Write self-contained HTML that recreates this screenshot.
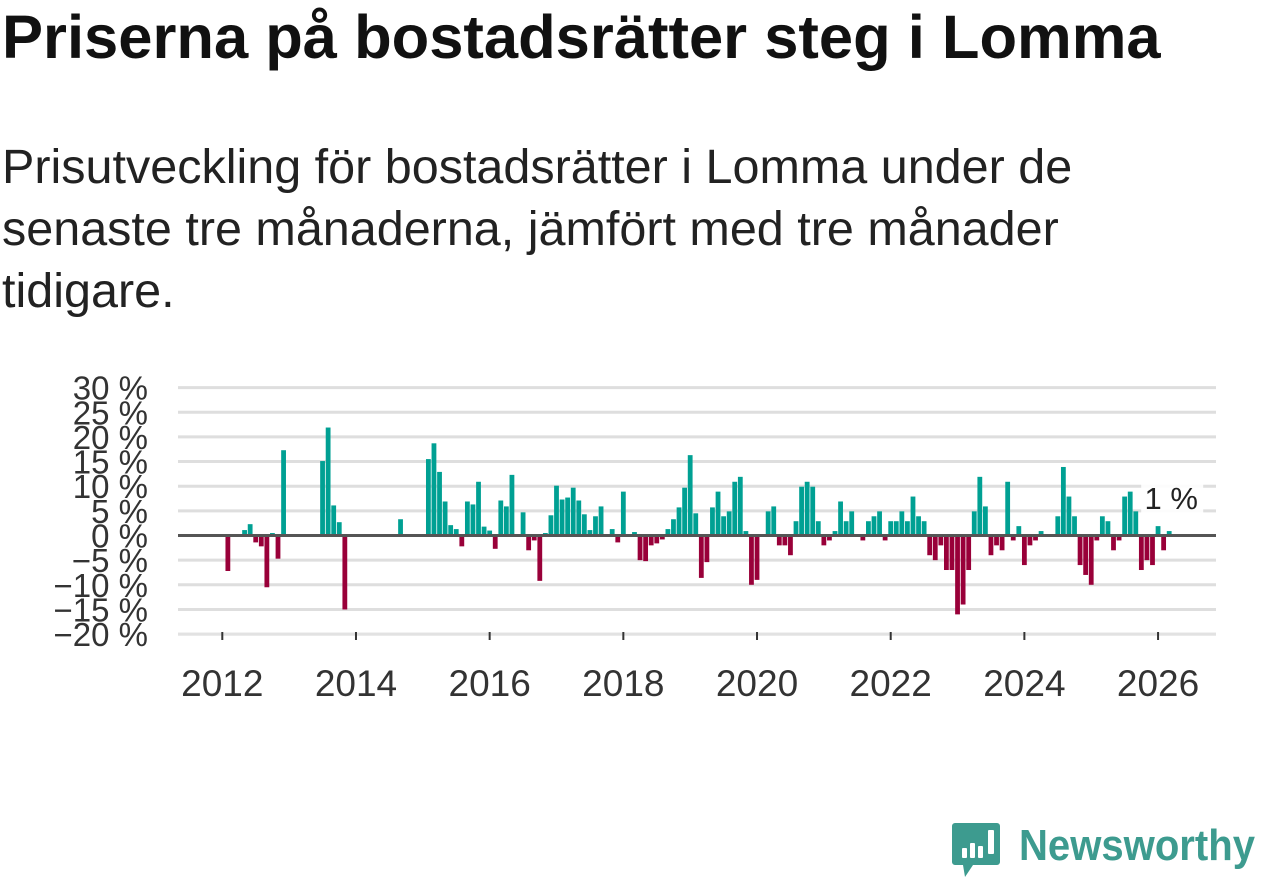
<!DOCTYPE html>
<html><head><meta charset="utf-8">
<style>
body{margin:0;width:1262px;height:879px;background:#fff;overflow:hidden;font-family:"Liberation Sans","DejaVu Sans",sans-serif;}
#title{position:absolute;left:2px;top:0px;font-size:61.5px;line-height:76px;font-weight:bold;color:#111;margin:0;white-space:nowrap;}
#sub{position:absolute;left:2px;top:136px;font-size:48.5px;line-height:62px;color:#222;margin:0;width:1110px;}
svg{position:absolute;left:0;top:0;}
</style></head><body>
<h1 id="title">Priserna på bostadsrätter steg i Lomma</h1>
<p id="sub">Prisutveckling för bostadsrätter i Lomma under de senaste tre månaderna, jämfört med tre månader tidigare.</p>
<svg id="chart" width="1262" height="879"></svg>
<script>
const startYear = 2012;
const values = [
0,-7.2,0,0,1.1,2.3,-1.4,-2.2,-10.5,0.5,-4.7,17.3,
0,0,0,0,0,0,15.1,21.9,6.1,2.7,-15,0,
0,0,0,0,0,0,0,0,3.3,0,0,0,
0,15.5,18.7,12.9,6.9,2.1,1.3,-2.2,6.9,6.3,10.9,1.8,
1.0,-2.7,7.1,5.9,12.3,0.3,4.7,-3.0,-1.0,-9.2,0.5,4.1,
10.1,7.3,7.7,9.7,7.1,4.3,1.1,3.9,5.9,0,1.3,-1.4,
8.9,0,0.7,-5.0,-5.2,-2.0,-1.6,-0.8,1.3,3.3,5.7,9.7,
16.3,4.5,-8.6,-5.4,5.7,8.9,3.9,4.9,10.9,11.9,0.9,-10.0,
-9.0,0,4.9,5.9,-2.0,-2.0,-4.0,2.9,9.9,10.9,9.9,2.9,
-2.0,-1.0,0.9,6.9,2.9,4.9,0,-1.0,2.9,3.9,4.9,-1.0,
2.9,2.9,4.9,2.9,7.9,3.9,2.9,-4.0,-5.0,-2.0,-7.0,-7.0,
-16.0,-14.0,-7.0,4.9,11.9,5.9,-4.0,-2.0,-3.0,10.9,-1.0,1.9,
-6.0,-2.0,-1.0,0.9,0,0,3.9,13.9,7.9,3.9,-6.0,-8.0,
-10.0,-1.0,3.9,2.9,-3.0,-1.0,7.9,8.9,4.9,-7.0,-5.0,-6.0,
1.9,-3.0,0.9
];
const yTicks = [30,25,20,15,10,5,0,-5,-10,-15,-20];
const yTickLabels = ["30 %","25 %","20 %","15 %","10 %","5 %","0 %","−5 %","−10 %","−15 %","−20 %"];
const xTicks = [2012,2014,2016,2018,2020,2022,2024,2026];
const lastLabel = "1 %";

const NS="http://www.w3.org/2000/svg";
const svg=document.getElementById('chart');
const x0=178,x1=1216;
function y(v){return 535.5-(v)*4.93;}
function xm(m){return 222.3+m*5.57;}
function mk(t,a){const e=document.createElementNS(NS,t);for(const k in a)e.setAttribute(k,a[k]);svg.appendChild(e);return e;}
yTicks.forEach((t,i)=>{
  if(t!==0){const g=mk('line',{x1:x0,x2:x1,y1:y(t),y2:y(t),stroke:'#dedede','stroke-width':3});
  
  }
  const l=mk('text',{x:148,y:y(t)+12,'text-anchor':'end','font-size':33,fill:'#333'});
  
  
  l.textContent=yTickLabels[i];
});
const ax=mk('line',{x1:x0,x2:x1,y1:634,y2:634,stroke:'#e6e6e6','stroke-width':1});


xTicks.forEach(yr=>{
  const px=xm((yr-startYear)*12);
  const tk=mk('line',{x1:px,x2:px,y1:632,y2:640,stroke:'#333','stroke-width':2});
  
  
  const l=mk('text',{x:px,y:696,'text-anchor':'middle','font-size':37,fill:'#333'});
  
  
  l.textContent=yr;
});
values.forEach((v,m)=>{
  if(v===0)return;
  const top=Math.min(y(v),y(0)),h=Math.abs(y(v)-y(0));
  const b=mk('rect',{x:xm(m)-2.4,y:top,width:4.8,height:h,fill:v>0?'#00a093':'#990039'});
  
  
});
const zl=mk('line',{x1:x0,x2:x1,y1:y(0),y2:y(0),stroke:'#555','stroke-width':3});


const lx=xm(values.length-1)+2;
const bg=mk('rect',{x:lx-30,y:482,width:62,height:34,fill:'#fff',opacity:0.9});


const lt=mk('text',{x:lx,y:509,'text-anchor':'middle','font-size':31,fill:'#222'});


lt.textContent=lastLabel;
// logo
const ic=mk('path',{d:'M955 823 h42 a3 3 0 0 1 3 3 v36 a3 3 0 0 1 -3 3 h-24 l-8 12 l-2 -12 h-8 a3 3 0 0 1 -3 -3 v-36 a3 3 0 0 1 3 -3z',fill:'#3d9b8f'});


[[962,848,5,10],[970,843,5,15],[978,846,5,12],[988,830,6,24]].forEach(r=>{const e=mk('rect',{x:r[0],y:r[1],width:r[2],height:r[3],fill:'#fff',rx:1});

});
const lg=mk('text',{x:1019,y:860,'font-size':44,'font-weight':'bold',fill:'#3d9b8f',textLength:236,lengthAdjust:'spacingAndGlyphs'});


lg.textContent='Newsworthy';
</script>
</body></html>
